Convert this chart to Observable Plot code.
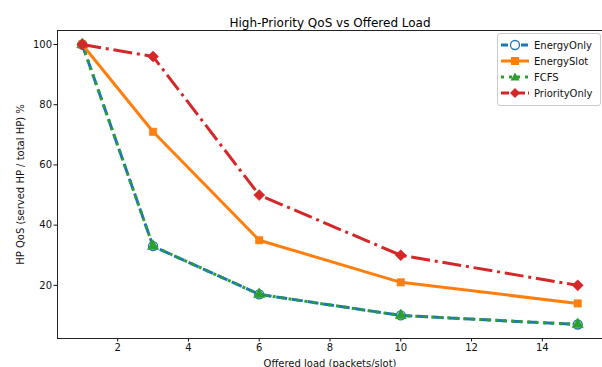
<!DOCTYPE html>
<html>
<head>
<meta charset="utf-8">
<script src="https://cdn.jsdelivr.net/npm/d3@7"></script>
<script src="https://cdn.jsdelivr.net/npm/@observablehq/plot@0.6"></script>
<style>
  html, body { margin: 0; padding: 0; background: #fff; }
  #wrap { position: relative; width: 602px; height: 367px; overflow: hidden; font-family: "DejaVu Sans", sans-serif; }
  #legend { position: absolute; left: 497px; top: 33px; width: 102px; padding: 3px 0 4px 0; border: 1px solid #cccccc; border-radius: 3px; background: rgba(255,255,255,0.85); font-size: 10px; color: #111; }
  #legend .row { display: flex; align-items: center; height: 16px; }
  #legend svg { margin-left: 3px; margin-right: 5px; }
</style>
</head>
<body>
<div id="wrap"><div id="chart"></div><div id="legend"></div></div>
<script>
const loads = [1, 3, 6, 10, 15];
const seriesNames = ["EnergyOnly", "EnergySlot", "FCFS", "PriorityOnly"];
const energyOnly = [100, 33, 17, 10, 7];
const energySlot = [100, 71, 35, 21, 14];
const fcfs = [100, 33, 17, 10, 7];
const priorityOnly = [100, 96, 50, 30, 20];
const xTicks = [2, 4, 6, 8, 10, 12, 14];
const yTicks = [20, 40, 60, 80, 100];
const titleText = "High-Priority QoS vs Offered Load";
const xLabel = "Offered load (packets/slot)";
const yLabel = "HP QoS (served HP / total HP) %";

const values = [energyOnly, energySlot, fcfs, priorityOnly];
const colors = ["#1f77b4", "#ff7f0e", "#2ca02c", "#d62728"];
const dashes = ["11,4.8", null, "3,5", "19,4.8,3,4.8"];
const symbols = ["circle", "square", "triangle", "diamond2"];

const rows = [];
seriesNames.forEach((s, i) => loads.forEach((x, j) => rows.push({series: s, x, y: values[i][j]})));

const marks = [Plot.frame({stroke: "#222", strokeWidth: 1})];
seriesNames.forEach((s, i) => {
  const d = rows.filter(r => r.series === s);
  marks.push(Plot.line(d, {x: "x", y: "y", stroke: colors[i], strokeWidth: 3, strokeDasharray: dashes[i] || undefined, strokeLinejoin: "round", strokeLinecap: dashes[i] ? "butt" : "round"}));
  if (symbols[i] === "circle") {
    marks.push(Plot.dot(d, {x: "x", y: "y", r: 4.5, symbol: "circle", stroke: colors[i], fill: "none", strokeWidth: 1.3}));
  } else {
    marks.push(Plot.dot(d, {x: "x", y: "y", r: symbols[i] === "diamond2" ? 5 : 4.2, symbol: symbols[i], fill: colors[i], stroke: colors[i], strokeWidth: 0.5}));
  }
});
marks.push(Plot.text([titleText], {frameAnchor: "top", dy: -12, fontSize: 12, fill: "#000"}));

const chart = Plot.plot({
  width: 602,
  height: 367,
  marginLeft: 57,
  marginRight: 0,
  marginTop: 30,
  marginBottom: 29,
  style: {fontFamily: "DejaVu Sans, sans-serif", fontSize: "10px", color: "#111", background: "#fff"},
  x: {domain: [0.3, 15.7], ticks: xTicks, tickSize: 3.5, tickPadding: 2, label: xLabel, labelAnchor: "center", labelArrow: "none", labelOffset: 28},
  y: {domain: [2.35, 104.65], ticks: yTicks, tickSize: 3.5, tickPadding: 2, label: yLabel, labelAnchor: "center", labelArrow: "none", labelOffset: 41},
  marks
});
document.getElementById("chart").appendChild(chart);

const legend = document.getElementById("legend");
seriesNames.forEach((s, i) => {
  const row = document.createElement("div");
  row.className = "row";
  let marker;
  if (symbols[i] === "circle") marker = `<circle cx="14" cy="8" r="4.5" fill="#fff" stroke="${colors[i]}" stroke-width="1.3"/>`;
  else if (symbols[i] === "square") marker = `<rect x="10" y="4" width="8" height="8" fill="${colors[i]}"/>`;
  else if (symbols[i] === "triangle") marker = `<path d="M14,3.5 L18.5,11.5 L9.5,11.5 Z" fill="${colors[i]}"/>`;
  else marker = `<path d="M14,3 L19,8 L14,13 L9,8 Z" fill="${colors[i]}"/>`;
  const dash = symbols[i] === "triangle" ? "3,5" : symbols[i] === "circle" ? "7,3" : symbols[i] === "diamond2" ? "8,3,2,3" : "";
  row.innerHTML = `<svg width="28" height="16"><line x1="0" y1="8" x2="28" y2="8" stroke="${colors[i]}" stroke-width="3" ${dash ? `stroke-dasharray="${dash}"` : ""}/>${marker}</svg><span>${s}</span>`;
  legend.appendChild(row);
});
</script>
</body>
</html>
